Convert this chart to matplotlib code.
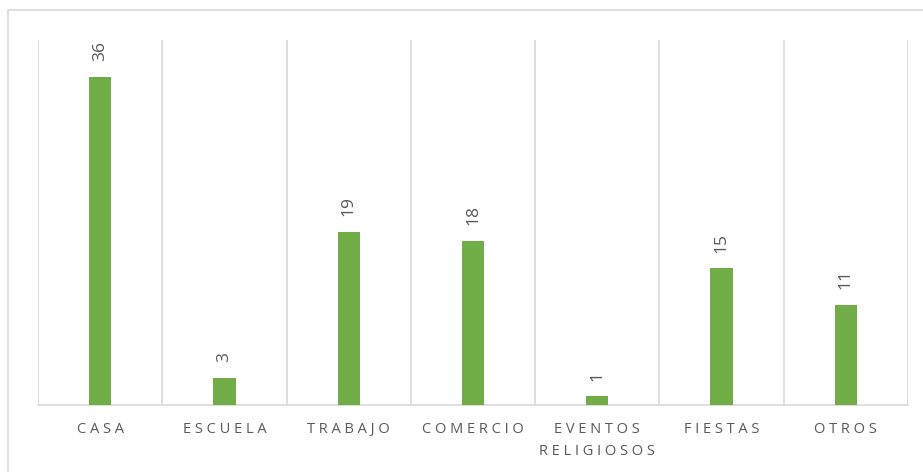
import numpy as np
import matplotlib.pyplot as plt
from matplotlib.patches import Rectangle

categories = ["CASA", "ESCUELA", "TRABAJO", "COMERCIO", "EVENTOS\nRELIGIOSOS", "FIESTAS", "OTROS"]
values = [36, 3, 19, 18, 1, 15, 11]

green = "#70AD47"
grid = "#D9D9D9"
txt = "#595959"

plt.rcParams['font.family'] = ['Open Sans', 'DejaVu Sans']

def spaced(s):
    # wide letter spacing on the category labels
    return "\n".join(" ".join(line) for line in s.split("\n"))

W, H = 923, 472
fig = plt.figure(figsize=(W / 100, H / 100), dpi=100)
ax = fig.add_axes([38 / W, 1 - 405 / H, (908 - 38) / W, (405 - 40) / H])

# frame around the chart area
fig.patches.append(Rectangle((8 / W, -0.1), 1.2, 1 - 10 / H + 0.1,
                             transform=fig.transFigure, fill=False,
                             edgecolor=grid, linewidth=1.2))

x = np.arange(len(categories))
ax.bar(x, values, width=0.18, color=green, zorder=3)

ax.set_xlim(-0.5, len(categories) - 0.5)
ax.set_ylim(0, 40)

# vertical separators between categories
for b in np.arange(-0.5, len(categories), 1):
    ax.axvline(b, color=grid, linewidth=1.2, zorder=1)

for xi, v in zip(x, values):
    ax.annotate(str(v), (xi, v), xytext=(0, 11), textcoords="offset points",
                rotation=90, ha="center", va="bottom", color=txt,
                fontsize=12.5)

ax.set_xticks(x)
ax.set_xticklabels([spaced(c) for c in categories], color=txt, fontsize=10.5,
                   linespacing=1.65, va="top")
ax.tick_params(axis="x", length=0, pad=12)
ax.set_yticks([])

for side in ["top", "left", "right"]:
    ax.spines[side].set_visible(False)
ax.spines["bottom"].set_color(grid)
ax.spines["bottom"].set_linewidth(1.2)

fig.savefig("out.png", dpi=100)
